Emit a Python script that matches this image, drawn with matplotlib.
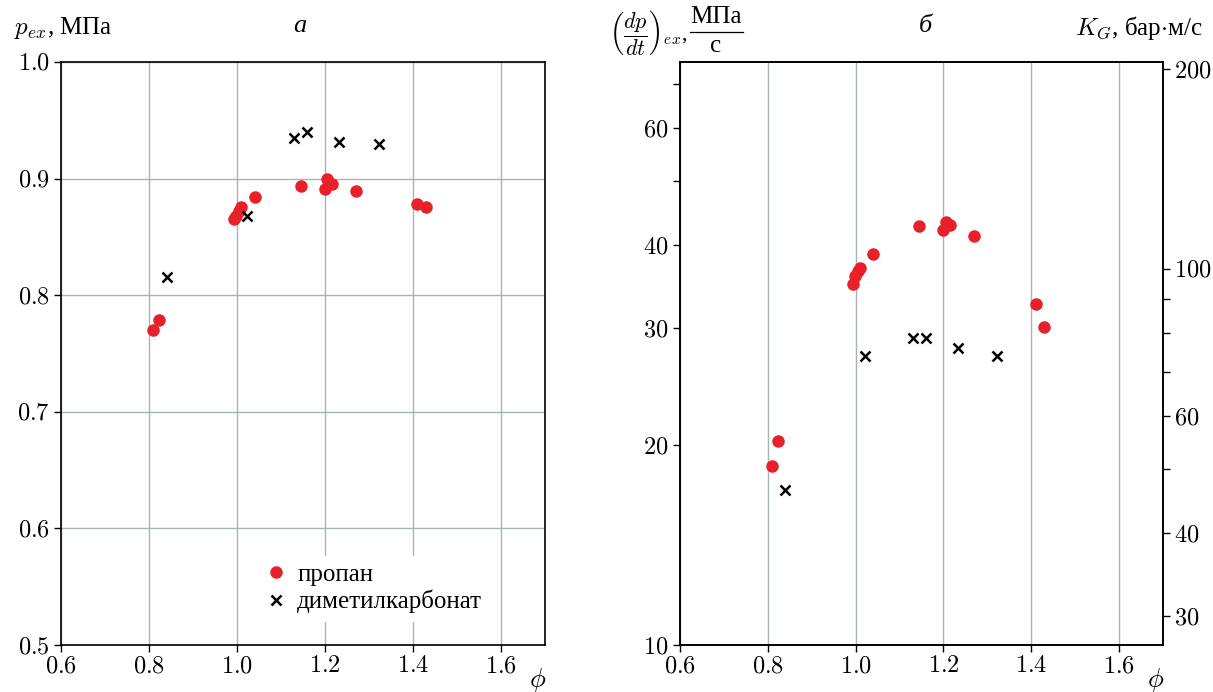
import numpy as np
import matplotlib
matplotlib.use("Agg")
import matplotlib.pyplot as plt
from matplotlib.ticker import FixedLocator, NullFormatter, FixedFormatter
from matplotlib.lines import Line2D

plt.rcParams['font.family'] = ['Liberation Serif', 'DejaVu Serif']
plt.rcParams['mathtext.fontset'] = 'cm'
plt.rcParams['font.size'] = 14

# пропан
phi_prop = [0.810, 0.823, 0.994, 0.998, 1.005, 1.010, 1.040, 1.145, 1.200, 1.205, 1.215, 1.270, 1.410, 1.430]
p_prop = [0.770, 0.779, 0.865, 0.868, 0.872, 0.876, 0.884, 0.894, 0.891, 0.900, 0.895, 0.889, 0.878, 0.876]
dpdt_prop = [18.6, 20.3, 35.0, 35.9, 36.6, 36.9, 38.8, 42.7, 42.2, 43.4, 42.9, 41.3, 32.6, 30.1]

# диметилкарбонат
phi_dmc = [0.840, 1.022, 1.130, 1.160, 1.232, 1.323]
p_dmc = [0.816, 0.868, 0.935, 0.940, 0.931, 0.930]
dpdt_dmc = [17.1, 27.2, 29.0, 29.0, 28.0, 27.2]

x_ticks = [0.6, 0.8, 1.0, 1.2, 1.4, 1.6]
p_ticks = [0.5, 0.6, 0.7, 0.8, 0.9, 1.0]
dpdt_ticks = [10, 20, 30, 40, 60]
dpdt_minor = [50, 70]
kg_ticks = [30, 40, 60, 100, 200]
kg_minor = [50, 70, 80, 90]
KG_FACTOR = 10 * 0.02 ** (1 / 3)  # бар*м/с на МПа/с, V = 20 л

RED = '#e8202a'
GRID = '#aab3b3'
TICK_FS = 17.5
LBL_FS = 18

W, H = 1213, 692
fig = plt.figure(figsize=(W / 100, H / 100), dpi=100)

def px(x0, y0, x1, y1):
    return [x0 / W, 1 - y1 / H, (x1 - x0) / W, (y1 - y0) / H]

ax1 = fig.add_axes(px(61, 62, 545, 645))
ax2 = fig.add_axes(px(680, 62, 1163, 645))

def mfmt(vals, fmt):
    return ['$' + fmt.format(v) + '$' for v in vals]

def style(ax):
    ax.tick_params(direction='out', length=5, width=1, labelsize=TICK_FS, colors='black', pad=3)
    for s in ax.spines.values():
        s.set_linewidth(1.2)
    ax.set_xlim(0.6, 1.7)
    ax.set_xticks(x_ticks)
    ax.set_xticklabels(mfmt(x_ticks, '{:.1f}'))
    ax.set_axisbelow(True)
    ax.text(0.985, -0.06, r'$\phi$', transform=ax.transAxes, ha='center', va='center', fontsize=19)

# ---- а ----
style(ax1)
ax1.set_ylim(0.5, 1.0)
ax1.set_yticks(p_ticks)
ax1.set_yticklabels(mfmt(p_ticks, '{:.1f}'))
ax1.grid(True, color=GRID, lw=1)
ax1.plot(phi_prop, p_prop, 'o', color=RED, ms=9, mec='none', label='пропан')
ax1.plot(phi_dmc, p_dmc, 'x', color='black', ms=7, mew=1.8, label='диметилкарбонат')
leg = ax1.legend(loc='lower left', bbox_to_anchor=(0.382, 0.02), frameon=True,
                 fancybox=False, framealpha=1, edgecolor='white', handlelength=0.8,
                 handletextpad=0.45, borderpad=0.3, labelspacing=0.15, fontsize=LBL_FS)

# ---- б ----
style(ax2)
ax2.set_yscale('log')
ax2.set_ylim(10, 75.5)
ax2.yaxis.set_major_locator(FixedLocator(dpdt_ticks))
ax2.yaxis.set_major_formatter(FixedFormatter(mfmt(dpdt_ticks, '{:d}')))
ax2.yaxis.set_minor_locator(FixedLocator(dpdt_minor))
ax2.yaxis.set_minor_formatter(NullFormatter())
ax2.tick_params(which='minor', direction='out', length=5, width=1)
ax2.grid(True, axis='x', color=GRID, lw=1)
ax2.plot(phi_prop, dpdt_prop, 'o', color=RED, ms=9, mec='none')
ax2.plot(phi_dmc, dpdt_dmc, 'x', color='black', ms=7, mew=1.8)

ax3 = ax2.twinx()
ax3.set_yscale('log')
ax3.set_ylim(10 * KG_FACTOR, 75.5 * KG_FACTOR)
ax3.yaxis.set_major_locator(FixedLocator(kg_ticks))
ax3.yaxis.set_major_formatter(FixedFormatter(mfmt(kg_ticks, '{:d}')))
ax3.yaxis.set_minor_locator(FixedLocator(kg_minor))
ax3.yaxis.set_minor_formatter(NullFormatter())
ax3.tick_params(which='both', direction='out', length=5, width=1, labelsize=TICK_FS, pad=3)
for s in ax3.spines.values():
    s.set_linewidth(1.2)

# подписи
fig.text(14 / W, 1 - 28 / H, r'$p_{ex}$, МПа', ha='left', va='center', fontsize=LBL_FS)
fig.text(300 / W, 1 - 26 / H, 'а', ha='center', va='center', fontsize=19, style='italic')
fig.text(925 / W, 1 - 26 / H, 'б', ha='center', va='center', fontsize=19, style='italic')
fig.text(609 / W, 1 - 32 / H, r'$\left(\dfrac{dp}{dt}\right)_{ex}$,', ha='left', va='center', fontsize=16)
fig.text(716 / W, 1 - 17 / H, 'МПа', ha='center', va='center', fontsize=LBL_FS)
fig.add_artist(Line2D([690 / W, 743 / W], [1 - 32 / H, 1 - 32 / H], color='black', lw=0.9))
fig.text(716 / W, 1 - 46 / H, 'с', ha='center', va='center', fontsize=LBL_FS)
fig.text(1075 / W, 1 - 28 / H, r'$K_G$, бар$\cdot$м/с', ha='left', va='center', fontsize=LBL_FS)

fig.savefig('out.png', dpi=100)
